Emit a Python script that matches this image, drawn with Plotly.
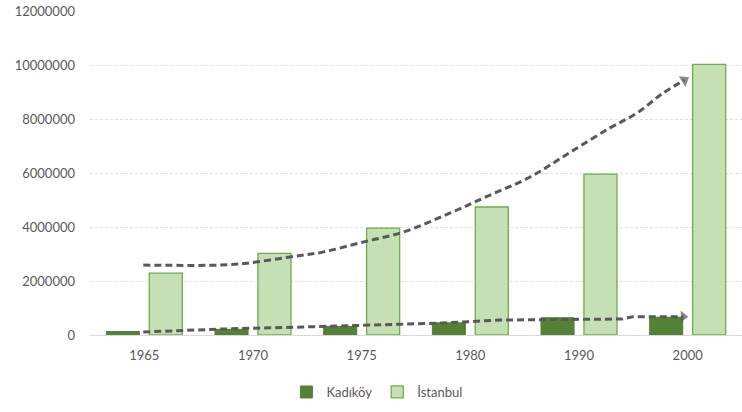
import plotly.graph_objects as go

# Population by census year
years = ["1965", "1970", "1975", "1980", "1990", "2000"]
kadikoy = [130000, 210000, 320000, 450000, 640000, 660000]
istanbul = [2290000, 3020000, 3960000, 4740000, 5960000, 10020000]

# Hand-drawn growth trend arrows (x = category index, y = population)
trend_ist_x = [-0.01, 0.70, 0.94, 1.34, 1.64, 2.01, 2.38, 2.81, 3.18, 3.55, 3.92, 4.28, 4.53, 4.77, 4.97]
trend_ist_y = [2590000, 2590000, 2660000, 2890000, 3070000, 3440000, 3810000, 4510000,
               5180000, 5850000, 6770000, 7660000, 8210000, 8950000, 9440000]
trend_kad_x = [-0.01, 0.72, 1.46, 2.01, 2.75, 3.27, 4.40, 4.50, 4.96]
trend_kad_y = [111000, 222000, 296000, 370000, 444000, 555000, 592000, 680000, 680000]

y_ticks = [0, 2000000, 4000000, 6000000, 8000000, 10000000, 12000000]

TEXT = "#595959"
FONT = "Lato"
idx = list(range(len(years)))

fig = go.Figure()
fig.add_trace(go.Bar(x=idx, y=kadikoy, name="Kadıköy",
                     marker=dict(color="#538135", line=dict(color="#538135", width=1))))
fig.add_trace(go.Bar(x=idx, y=istanbul, name="İstanbul",
                     marker=dict(color="#c5e0b4", line=dict(color="#70ad47", width=1.3))))

for tx, ty, shape, head in ((trend_ist_x, trend_ist_y, "spline", 11),
                            (trend_kad_x, trend_kad_y, "linear", 10)):
    fig.add_trace(go.Scatter(x=tx, y=ty, mode="lines", showlegend=False, hoverinfo="skip",
                             line=dict(color="#595959", width=3, dash="7px,4px", shape=shape)))
    fig.add_trace(go.Scatter(x=tx[-2:], y=ty[-2:], mode="markers", showlegend=False,
                             hoverinfo="skip",
                             marker=dict(symbol="triangle-up", angleref="previous",
                                         size=[0, head], color="#595959",
                                         line=dict(width=0))))

fig.update_layout(
    width=742, height=412,
    margin=dict(l=90, r=0, t=11, b=77),
    paper_bgcolor="white", plot_bgcolor="white",
    font=dict(family=FONT, size=13, color=TEXT),
    barmode="group", bargap=0.21, bargroupgap=0.23,
    showlegend=True,
    legend=dict(orientation="h", x=0.44, xanchor="center", y=-0.176, yanchor="middle",
                font=dict(family=FONT, size=13, color=TEXT), itemwidth=30,
                traceorder="normal"),
)
fig.update_xaxes(range=[-0.5, 5.5], tickmode="array", tickvals=idx, ticktext=years,
                 showgrid=False, zeroline=False, showline=True, linecolor="#d9d9d9",
                 linewidth=1, ticks="", ticklabelstandoff=8, fixedrange=True)
fig.update_yaxes(range=[0, 12000000], tickmode="array", tickvals=y_ticks,
                 ticktext=[str(v) for v in y_ticks],
                 showgrid=True, gridcolor="#e0e0e0", griddash="3px,2px", gridwidth=1,
                 zeroline=False, showline=False, ticks="", ticklabelstandoff=14,
                 fixedrange=True)

fig.write_html("out.html")
